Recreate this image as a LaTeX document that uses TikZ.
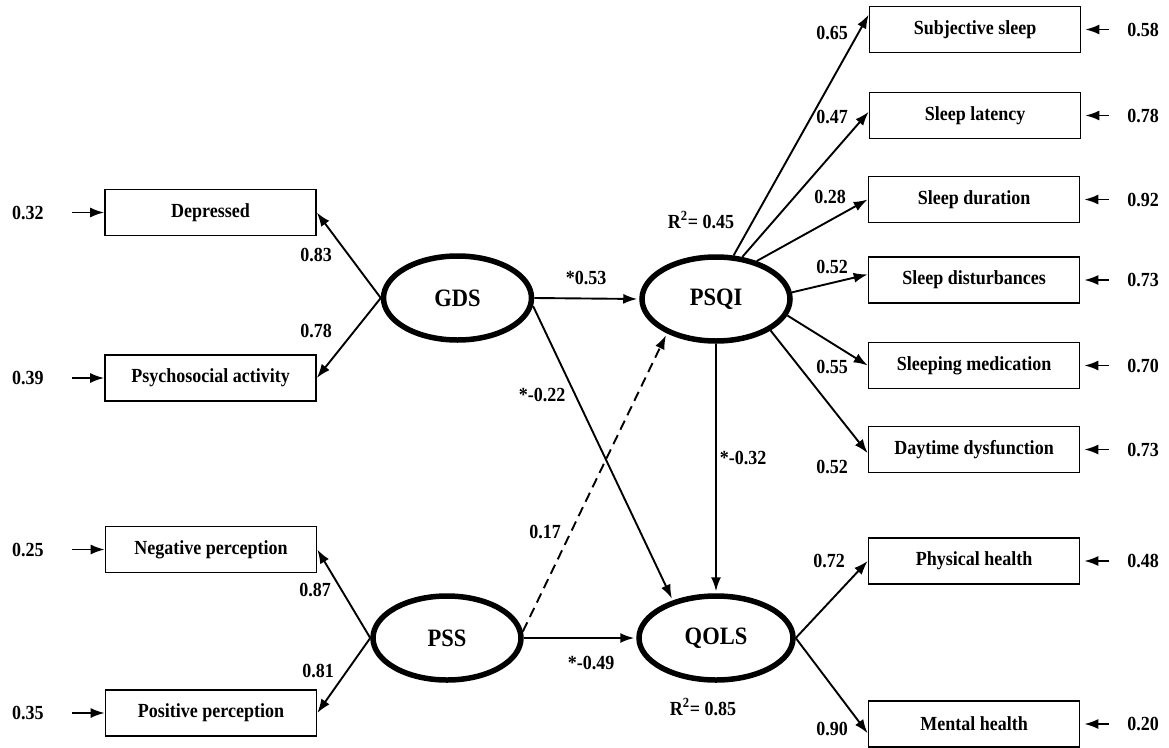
\documentclass[tikz,border=0pt]{standalone}
\usepackage{fontspec}
\setmainfont{Liberation Serif}[FakeStretch=0.9]
\usepackage{tikz}
\usetikzlibrary{arrows.meta, shapes.geometric}

\begin{document}
\begin{tikzpicture}[x=1pt, y=-1pt,
    every node/.style={font=\bfseries\fontsize{20}{22}\selectfont},
    indicator/.style={draw, line width=1.6pt, minimum width=211pt, minimum height=46pt, inner sep=0pt},
    latent/.style={draw, ellipse, line width=5.5pt, minimum width=148pt, minimum height=84pt, inner sep=0pt, font=\bfseries\fontsize{25}{27}\selectfont},
    coef/.style={inner sep=0pt},
    link/.style={-{Latex[length=14pt, width=10pt]}, line width=1.9pt},
    residL/.style={link, shorten <=28pt},
    residR/.style={link, shorten <=18pt, shorten >=4pt}]
    \useasboundingbox (0,0) rectangle (1169,747);
    % Indicators of GDS and PSS
    \node[indicator] (dep) at (210.5,212.5) {Depressed};
    \node[indicator] (psy) at (210.5,378) {Psychosocial activity};
    \node[indicator] (neg) at (211,549.5) {Negative perception};
    \node[indicator] (pos) at (211,713) {Positive perception};
    % Latent variables
    \node[latent] (gds) at (457.5,298) {GDS};
    \node[latent] (pss) at (447,638) {PSS};
    \node[latent] (psqi) at (716,299) {PSQI};
    \node[latent, minimum width=154pt] (qols) at (716,638) {QOLS};
    % PSQI components
    \node[indicator] (subj) at (975,29.5) {Subjective sleep};
    \node[indicator] (lat) at (975,115.5) {Sleep latency};
    \node[indicator] (dur) at (974,199.5) {Sleep duration};
    \node[indicator] (dist) at (974,280) {Sleep disturbances};
    \node[indicator] (med) at (974,365.5) {Sleeping medication};
    \node[indicator] (day) at (974,449.5) {Daytime dysfunction};
    % QOLS components
    \node[indicator] (phys) at (974,561) {Physical health};
    \node[indicator] (ment) at (974,724) {Mental health};
    % Residuals
    \node[coef] (r1) at (28,212.5) {0.32};
    \node[coef] (r2) at (28,378) {0.39};
    \node[coef] (r3) at (28,549.5) {0.25};
    \node[coef] (r4) at (28,713) {0.35};
    \node[coef] (r5) at (1143,29.5) {0.58};
    \node[coef] (r6) at (1143,115.5) {0.78};
    \node[coef] (r7) at (1143,199.5) {0.92};
    \node[coef] (r8) at (1143,280) {0.73};
    \node[coef] (r9) at (1143,365.5) {0.70};
    \node[coef] (r10) at (1143,449.5) {0.73};
    \node[coef] (r11) at (1143,561) {0.48};
    \node[coef] (r12) at (1143,724) {0.20};
    \draw[residL] (r1) -- (dep);
    \draw[residL] (r2) -- (psy);
    \draw[residL] (r3) -- (neg);
    \draw[residL] (r4) -- (pos);
    \draw[residR] (r5) -- (subj);
    \draw[residR] (r6) -- (lat);
    \draw[residR] (r7) -- (dur);
    \draw[residR] (r8) -- (dist);
    \draw[residR] (r9) -- (med);
    \draw[residR] (r10) -- (day);
    \draw[residR] (r11) -- (phys);
    \draw[residR] (r12) -- (ment);
    % Loadings
    \draw[link] (gds.west) -- (dep.east);
    \draw[link] (gds.west) -- (psy.east);
    \draw[link] (pss.west) -- (neg.east);
    \draw[link] (pss.west) -- (pos.east);
    \draw[link] (psqi.68) -- (subj.172);
    \draw[link] (psqi.58) -- (lat.178);
    \draw[link] (psqi.43) -- (dur.west);
    \draw[link] (psqi.5) -- (dist.177);
    \draw[link] (psqi.-13) -- (med.west);
    \draw[link] (psqi.-30) -- (day.182);
    \draw[link] (qols.east) -- (phys.west);
    \draw[link] (qols.east) -- (ment.185);
    % Structural paths
    \draw[link, shorten >=2pt] (gds.east) -- (psqi.west);
    \draw[link, shorten >=2pt] (gds.-6) -- (qols.139);
    \draw[link, shorten >=2pt, dash pattern=on 10pt off 6pt] (pss.5) -- (psqi.215);
    \draw[link, shorten >=2pt] (pss.east) -- (qols.west);
    \draw[link, shorten >=2pt] (psqi.south) -- (qols.north);
    % Coefficients
    \node[coef] (l1) at (316,255) {0.83};
    \node[coef] (l2) at (316,331) {0.78};
    \node[coef] (l3) at (315,590) {0.87};
    \node[coef] (l4) at (318,671) {0.81};
    \node[coef] (l5) at (832,33) {0.65};
    \node[coef] (l6) at (832,117) {0.47};
    \node[coef] (l7) at (830,197) {0.28};
    \node[coef] (l8) at (832,267) {0.52};
    \node[coef] (l9) at (832,367) {0.55};
    \node[coef] (l10) at (832,467) {0.52};
    \node[coef] (l11) at (829,561) {0.72};
    \node[coef] (l12) at (832,729) {0.90};
    \node[coef] (b1) at (586,278) {*0.53};
    \node[coef] (b2) at (542,395) {*-0.22};
    \node[coef] (b3) at (545,532) {0.17};
    \node[coef] (b4) at (591,663) {*-0.49};
    \node[coef] (b5) at (743,458) {*-0.32};
    \node[coef] (rsq1) at (701,220) {R\textsuperscript{2}= 0.45};
    \node[coef] (rsq2) at (703,707) {R\textsuperscript{2}= 0.85};
\end{tikzpicture}
\end{document}
